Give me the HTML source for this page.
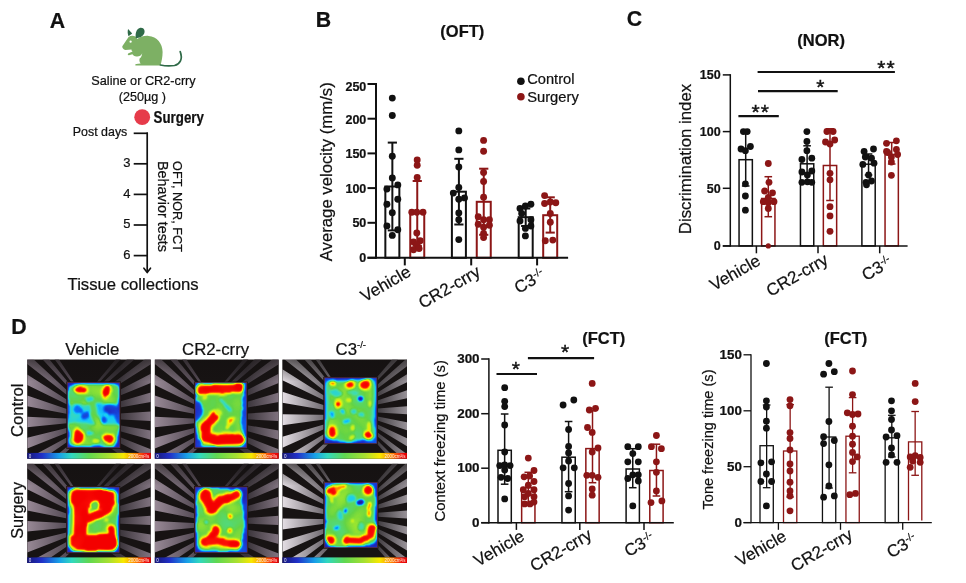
<!DOCTYPE html>
<html lang="en"><head><meta charset="utf-8"><title>Figure</title>
<style>html,body{margin:0;padding:0;background:#fff}svg{display:block}text{font-family:"Liberation Sans", sans-serif;stroke:#111;stroke-width:0.22px}</style>
</head><body>
<svg width="966" height="583" viewBox="0 0 966 583">
<rect width="966" height="583" fill="#ffffff"/>
<defs>
<filter id="jet" x="-10%" y="-10%" width="120%" height="120%" color-interpolation-filters="sRGB"><feTurbulence type="fractalNoise" baseFrequency="0.06" numOctaves="1" seed="7" result="n"/><feColorMatrix in="n" type="matrix" values="0 0 1 0 0  0 0 1 0 0  0 0 1 0 0  0 0 0 0 1" result="n2"/><feDisplacementMap in="SourceGraphic" in2="n" scale="7" xChannelSelector="R" yChannelSelector="G" result="d0"/><feGaussianBlur in="d0" stdDeviation="1.3" result="d"/><feComposite in="d" in2="n2" operator="arithmetic" k1="0" k2="1" k3="0.22" k4="-0.11" result="m"/><feComponentTransfer in="m"><feFuncR type="table" tableValues="0.1 0.12 0.04 0.08 0.27 0.39 0.73 1 1 1 0.96"/><feFuncG type="table" tableValues="0.1 0.18 0.43 0.8 0.87 0.83 0.94 0.92 0.55 0.1 0"/><feFuncB type="table" tableValues="0.55 0.78 0.98 0.98 0.65 0.27 0.14 0 0 0.04 0"/><feFuncA type="linear" slope="0" intercept="1"/></feComponentTransfer></filter>
<linearGradient id="cbar" x1="0" x2="1" y1="0" y2="0"><stop offset="0" stop-color="#181878"/><stop offset="0.12" stop-color="#2030c8"/><stop offset="0.26" stop-color="#18a0e8"/><stop offset="0.36" stop-color="#30d8c0"/><stop offset="0.5" stop-color="#60d850"/><stop offset="0.66" stop-color="#a8e030"/><stop offset="0.78" stop-color="#f8e800"/><stop offset="0.88" stop-color="#ff8000"/><stop offset="0.96" stop-color="#f01010"/><stop offset="1" stop-color="#e00000"/></linearGradient>
</defs>
<text x="49.7" y="27.5" font-size="21.3" font-weight="bold" text-anchor="start" fill="#111111">A</text>
<text x="315.8" y="27.2" font-size="21.3" font-weight="bold" text-anchor="start" fill="#111111">B</text>
<text x="626.8" y="26.1" font-size="21.3" font-weight="bold" text-anchor="start" fill="#111111">C</text>
<text x="11.2" y="334.2" font-size="21.3" font-weight="bold" text-anchor="start" fill="#111111">D</text>
<g id="mouse">
<path d="M122.3 46.3 L128.6 37 C130.5 35.6 133 35.2 135.5 36.6 L137.4 39 C140.5 36.8 144 35.6 148.5 35.9 C157 36.4 162.6 43.5 162.6 52 C162.6 57.5 161.6 61.5 160.4 65.6 L136 65.6 C135 65.4 135 64.1 136.2 63.9 L140.6 63.4 C139.3 61.6 139.2 60 139.6 58.4 C141 57.6 141.9 55.6 142.2 53.2 C141.2 55.6 139.2 56.7 136.5 56.5 C134.3 56.3 133.2 55.4 132.4 54.3 L129 55.2 C127.6 55.4 127.3 53.7 128.6 53.2 L132.6 51.6 C131.6 51 131.4 50.3 131.5 49.6 L125.4 49.9 C123.4 49.7 122 48 122.3 46.3 Z" fill="#7db064"/>
<path d="M128.1 28.9 L132.2 33.6 L128.5 36.2 C127.5 33.6 127.5 31 128.1 28.9 Z" fill="#2f6a48"/>
<path d="M135.9 38.3 C134.8 33.4 136.6 28.4 140.4 27.8 C144.2 27.4 145.3 30.8 144.1 33.8 C142.8 36.6 139.6 37.9 135.9 38.3 Z" fill="#2f6a48"/>
<circle cx="130.6" cy="41.7" r="1.15" fill="#ffffff"/>
<path d="M160.4 65 C165 66 170 66.2 174.5 65.5 C180 64.4 183 59 180.2 51.6" fill="none" stroke="#2f6a48" stroke-width="1.7" stroke-linecap="round"/>
</g>
<text x="143.5" y="85.3" font-size="13" font-weight="normal" text-anchor="middle" fill="#111111" textLength="104.4" lengthAdjust="spacingAndGlyphs">Saline or CR2-crry</text>
<text x="142.3" y="101.2" font-size="13" font-weight="normal" text-anchor="middle" fill="#111111" textLength="47.2" lengthAdjust="spacingAndGlyphs">(250µg )</text>
<circle cx="142.2" cy="117.2" r="7.9" fill="#e63b4a"/>
<text x="153.6" y="122.6" font-size="15.6" font-weight="bold" text-anchor="start" fill="#111111" textLength="50.3" lengthAdjust="spacingAndGlyphs">Surgery</text>
<text x="72.8" y="136.3" font-size="12.4" font-weight="normal" text-anchor="start" fill="#111111" textLength="54.5" lengthAdjust="spacingAndGlyphs">Post days</text>
<line x1="147.2" y1="132.5" x2="147.2" y2="271.5" stroke="#111111" stroke-width="1.7" stroke-linecap="butt"/>
<line x1="133.7" y1="133.3" x2="148" y2="133.3" stroke="#111111" stroke-width="1.7" stroke-linecap="butt"/>
<line x1="133.7" y1="163.8" x2="147.2" y2="163.8" stroke="#111111" stroke-width="1.7" stroke-linecap="butt"/>
<text x="130.6" y="167" font-size="13" font-weight="normal" text-anchor="end" fill="#111111">3</text>
<line x1="133.7" y1="194.4" x2="147.2" y2="194.4" stroke="#111111" stroke-width="1.7" stroke-linecap="butt"/>
<text x="130.6" y="197.6" font-size="13" font-weight="normal" text-anchor="end" fill="#111111">4</text>
<line x1="133.7" y1="225" x2="147.2" y2="225" stroke="#111111" stroke-width="1.7" stroke-linecap="butt"/>
<text x="130.6" y="228.2" font-size="13" font-weight="normal" text-anchor="end" fill="#111111">5</text>
<line x1="133.7" y1="255.6" x2="147.2" y2="255.6" stroke="#111111" stroke-width="1.7" stroke-linecap="butt"/>
<text x="130.6" y="258.8" font-size="13" font-weight="normal" text-anchor="end" fill="#111111">6</text>
<path d="M143.9 268.2 L147.2 272.6 L150.5 268.2" fill="none" stroke="#111111" stroke-width="1.6" stroke-linecap="round" stroke-linejoin="round"/>
<text transform="translate(172.6 161) rotate(90)" font-size="13" font-weight="normal" text-anchor="start" fill="#111111" textLength="91" lengthAdjust="spacingAndGlyphs">OFT, NOR, FCT</text>
<text transform="translate(158.2 161) rotate(90)" font-size="14" font-weight="normal" text-anchor="start" fill="#111111" textLength="91" lengthAdjust="spacingAndGlyphs">Behavior tests</text>
<text x="67.6" y="290.4" font-size="16.5" font-weight="normal" text-anchor="start" fill="#111111" textLength="131" lengthAdjust="spacingAndGlyphs">Tissue collections</text>
<rect x="385.35" y="186.5" width="14" height="71.3" fill="none" stroke="#111111" stroke-width="2"/>
<line x1="392.35" y1="142.6" x2="392.35" y2="230.4" stroke="#111111" stroke-width="2" stroke-linecap="butt"/>
<line x1="387.75" y1="142.6" x2="396.95" y2="142.6" stroke="#111111" stroke-width="2" stroke-linecap="butt"/>
<line x1="387.75" y1="230.4" x2="396.95" y2="230.4" stroke="#111111" stroke-width="2" stroke-linecap="butt"/>
<rect x="410.25" y="213" width="14" height="44.8" fill="none" stroke="#8c1616" stroke-width="2"/>
<line x1="417.25" y1="181" x2="417.25" y2="245.8" stroke="#8c1616" stroke-width="2" stroke-linecap="butt"/>
<line x1="412.65" y1="181" x2="421.85" y2="181" stroke="#8c1616" stroke-width="2" stroke-linecap="butt"/>
<line x1="412.65" y1="245.8" x2="421.85" y2="245.8" stroke="#8c1616" stroke-width="2" stroke-linecap="butt"/>
<rect x="451.9" y="191.7" width="14" height="66.1" fill="none" stroke="#111111" stroke-width="2"/>
<line x1="458.9" y1="158.8" x2="458.9" y2="224.5" stroke="#111111" stroke-width="2" stroke-linecap="butt"/>
<line x1="454.3" y1="158.8" x2="463.5" y2="158.8" stroke="#111111" stroke-width="2" stroke-linecap="butt"/>
<line x1="454.3" y1="224.5" x2="463.5" y2="224.5" stroke="#111111" stroke-width="2" stroke-linecap="butt"/>
<rect x="476.75" y="201.8" width="14" height="56" fill="none" stroke="#8c1616" stroke-width="2"/>
<line x1="483.75" y1="168.7" x2="483.75" y2="234.8" stroke="#8c1616" stroke-width="2" stroke-linecap="butt"/>
<line x1="479.15" y1="168.7" x2="488.35" y2="168.7" stroke="#8c1616" stroke-width="2" stroke-linecap="butt"/>
<line x1="479.15" y1="234.8" x2="488.35" y2="234.8" stroke="#8c1616" stroke-width="2" stroke-linecap="butt"/>
<rect x="518.7" y="217.2" width="14" height="40.6" fill="none" stroke="#111111" stroke-width="2"/>
<line x1="525.7" y1="208.5" x2="525.7" y2="226" stroke="#111111" stroke-width="2" stroke-linecap="butt"/>
<line x1="521.1" y1="208.5" x2="530.3" y2="208.5" stroke="#111111" stroke-width="2" stroke-linecap="butt"/>
<line x1="521.1" y1="226" x2="530.3" y2="226" stroke="#111111" stroke-width="2" stroke-linecap="butt"/>
<rect x="543.2" y="215.2" width="14" height="42.6" fill="none" stroke="#8c1616" stroke-width="2"/>
<line x1="550.2" y1="197.3" x2="550.2" y2="232.6" stroke="#8c1616" stroke-width="2" stroke-linecap="butt"/>
<line x1="545.6" y1="197.3" x2="554.8" y2="197.3" stroke="#8c1616" stroke-width="2" stroke-linecap="butt"/>
<line x1="545.6" y1="232.6" x2="554.8" y2="232.6" stroke="#8c1616" stroke-width="2" stroke-linecap="butt"/>
<line x1="376" y1="83" x2="376" y2="258.8" stroke="#111111" stroke-width="2" stroke-linecap="butt"/>
<line x1="367.5" y1="257.8" x2="568.1" y2="257.8" stroke="#111111" stroke-width="2" stroke-linecap="butt"/>
<line x1="367.5" y1="84" x2="376" y2="84" stroke="#111111" stroke-width="2" stroke-linecap="butt"/>
<text x="366.3" y="91.1" font-size="12.5" font-weight="bold" text-anchor="end" fill="#111111">250</text>
<line x1="367.5" y1="118.7" x2="376" y2="118.7" stroke="#111111" stroke-width="2" stroke-linecap="butt"/>
<text x="366.3" y="124.2" font-size="12.5" font-weight="bold" text-anchor="end" fill="#111111">200</text>
<line x1="367.5" y1="153.4" x2="376" y2="153.4" stroke="#111111" stroke-width="2" stroke-linecap="butt"/>
<text x="366.3" y="158.3" font-size="12.5" font-weight="bold" text-anchor="end" fill="#111111">150</text>
<line x1="367.5" y1="188.1" x2="376" y2="188.1" stroke="#111111" stroke-width="2" stroke-linecap="butt"/>
<text x="366.3" y="192.6" font-size="12.5" font-weight="bold" text-anchor="end" fill="#111111">100</text>
<line x1="367.5" y1="222.8" x2="376" y2="222.8" stroke="#111111" stroke-width="2" stroke-linecap="butt"/>
<text x="366.3" y="227.3" font-size="12.5" font-weight="bold" text-anchor="end" fill="#111111">50</text>
<line x1="367.5" y1="257.8" x2="376" y2="257.8" stroke="#111111" stroke-width="2" stroke-linecap="butt"/>
<text x="366.3" y="262.3" font-size="12.5" font-weight="bold" text-anchor="end" fill="#111111">0</text>
<line x1="404.8" y1="257.8" x2="404.8" y2="265.4" stroke="#111111" stroke-width="2" stroke-linecap="butt"/>
<text transform="translate(412.2 275.1) rotate(-30)" font-size="17" font-weight="normal" text-anchor="end" fill="#111111">Vehicle</text>
<line x1="471.2" y1="257.8" x2="471.2" y2="265.4" stroke="#111111" stroke-width="2" stroke-linecap="butt"/>
<text transform="translate(481.6 275.1) rotate(-30)" font-size="17" font-weight="normal" text-anchor="end" fill="#111111">CR2-crry</text>
<line x1="537.1" y1="257.8" x2="537.1" y2="265.4" stroke="#111111" stroke-width="2" stroke-linecap="butt"/>
<text transform="translate(546 278.1) rotate(-30)" font-size="17" font-weight="normal" text-anchor="end" fill="#111111">C3<tspan font-size="10.5" dy="-5.5">-/-</tspan></text>
<circle cx="392.3" cy="98.1" r="3.45" fill="#111111"/>
<circle cx="392.3" cy="115.5" r="3.45" fill="#111111"/>
<circle cx="392.3" cy="156.3" r="3.45" fill="#111111"/>
<circle cx="392.3" cy="178" r="3.45" fill="#111111"/>
<circle cx="397.8" cy="184.9" r="3.45" fill="#111111"/>
<circle cx="386.9" cy="189.1" r="3.45" fill="#111111"/>
<circle cx="397.8" cy="199.3" r="3.45" fill="#111111"/>
<circle cx="386.9" cy="204.3" r="3.45" fill="#111111"/>
<circle cx="392.3" cy="212.7" r="3.45" fill="#111111"/>
<circle cx="386.9" cy="225.9" r="3.45" fill="#111111"/>
<circle cx="397.8" cy="229.7" r="3.45" fill="#111111"/>
<circle cx="392.3" cy="235.4" r="3.45" fill="#111111"/>
<circle cx="417.2" cy="160" r="3.45" fill="#8c1616"/>
<circle cx="417.2" cy="165.3" r="3.45" fill="#8c1616"/>
<circle cx="417.2" cy="177.5" r="3.45" fill="#8c1616"/>
<circle cx="411.8" cy="212.3" r="3.45" fill="#8c1616"/>
<circle cx="416.8" cy="212.3" r="3.45" fill="#8c1616"/>
<circle cx="423" cy="212.3" r="3.45" fill="#8c1616"/>
<circle cx="416.8" cy="233" r="3.45" fill="#8c1616"/>
<circle cx="413.5" cy="241.9" r="3.45" fill="#8c1616"/>
<circle cx="420.2" cy="240.8" r="3.45" fill="#8c1616"/>
<circle cx="417.2" cy="245" r="3.45" fill="#8c1616"/>
<circle cx="413.5" cy="249.7" r="3.45" fill="#8c1616"/>
<circle cx="419.1" cy="248.6" r="3.45" fill="#8c1616"/>
<circle cx="458.8" cy="130.9" r="3.45" fill="#111111"/>
<circle cx="458.8" cy="149.9" r="3.45" fill="#111111"/>
<circle cx="458.8" cy="167" r="3.45" fill="#111111"/>
<circle cx="458.8" cy="187.5" r="3.45" fill="#111111"/>
<circle cx="453.3" cy="193.1" r="3.45" fill="#111111"/>
<circle cx="464.5" cy="197.9" r="3.45" fill="#111111"/>
<circle cx="458.8" cy="199.2" r="3.45" fill="#111111"/>
<circle cx="458.8" cy="213" r="3.45" fill="#111111"/>
<circle cx="458.8" cy="219.7" r="3.45" fill="#111111"/>
<circle cx="458.8" cy="239.6" r="3.45" fill="#111111"/>
<circle cx="483.6" cy="140.4" r="3.45" fill="#8c1616"/>
<circle cx="483.6" cy="151.3" r="3.45" fill="#8c1616"/>
<circle cx="483.6" cy="172.5" r="3.45" fill="#8c1616"/>
<circle cx="483.6" cy="181.5" r="3.45" fill="#8c1616"/>
<circle cx="483.6" cy="197.2" r="3.45" fill="#8c1616"/>
<circle cx="478.2" cy="216.7" r="3.45" fill="#8c1616"/>
<circle cx="483.6" cy="219.7" r="3.45" fill="#8c1616"/>
<circle cx="489.4" cy="219.7" r="3.45" fill="#8c1616"/>
<circle cx="478.2" cy="224.2" r="3.45" fill="#8c1616"/>
<circle cx="489.4" cy="225.2" r="3.45" fill="#8c1616"/>
<circle cx="483.6" cy="227.2" r="3.45" fill="#8c1616"/>
<circle cx="483.6" cy="233.4" r="3.45" fill="#8c1616"/>
<circle cx="483.6" cy="237.6" r="3.45" fill="#8c1616"/>
<circle cx="520" cy="208.5" r="3.45" fill="#111111"/>
<circle cx="525.4" cy="206" r="3.45" fill="#111111"/>
<circle cx="530.9" cy="204.3" r="3.45" fill="#111111"/>
<circle cx="521.7" cy="213.5" r="3.45" fill="#111111"/>
<circle cx="520" cy="221" r="3.45" fill="#111111"/>
<circle cx="530.9" cy="219.7" r="3.45" fill="#111111"/>
<circle cx="530.9" cy="226" r="3.45" fill="#111111"/>
<circle cx="525.4" cy="228.4" r="3.45" fill="#111111"/>
<circle cx="525.4" cy="235.9" r="3.45" fill="#111111"/>
<circle cx="544.6" cy="195.6" r="3.45" fill="#8c1616"/>
<circle cx="544.6" cy="203.5" r="3.45" fill="#8c1616"/>
<circle cx="555.8" cy="202.8" r="3.45" fill="#8c1616"/>
<circle cx="550.3" cy="202" r="3.45" fill="#8c1616"/>
<circle cx="550.3" cy="213.5" r="3.45" fill="#8c1616"/>
<circle cx="550.3" cy="222.2" r="3.45" fill="#8c1616"/>
<circle cx="545.3" cy="240.8" r="3.45" fill="#8c1616"/>
<circle cx="552.8" cy="240.1" r="3.45" fill="#8c1616"/>
<text transform="translate(332 171.8) rotate(-90)" font-size="16.5" font-weight="normal" text-anchor="middle" fill="#111111" textLength="179" lengthAdjust="spacingAndGlyphs">Average velocity (mm/s)</text>
<text x="462.3" y="36.6" font-size="16.5" font-weight="bold" text-anchor="middle" fill="#111111">(OFT)</text>
<circle cx="520.9" cy="81.2" r="3.8" fill="#111111"/>
<text x="527.2" y="84.2" font-size="14.8" font-weight="normal" text-anchor="start" fill="#111111" textLength="47.3" lengthAdjust="spacingAndGlyphs">Control</text>
<circle cx="520.9" cy="96.8" r="3.8" fill="#8c1616"/>
<text x="527.2" y="101.8" font-size="14.8" font-weight="normal" text-anchor="start" fill="#111111" textLength="51.6" lengthAdjust="spacingAndGlyphs">Surgery</text>
<rect x="739.05" y="159.7" width="13.3" height="86.2" fill="none" stroke="#111111" stroke-width="1.5"/>
<line x1="745.7" y1="133.3" x2="745.7" y2="186" stroke="#111111" stroke-width="1.5" stroke-linecap="butt"/>
<line x1="741.9" y1="133.3" x2="749.5" y2="133.3" stroke="#111111" stroke-width="1.5" stroke-linecap="butt"/>
<line x1="741.9" y1="186" x2="749.5" y2="186" stroke="#111111" stroke-width="1.5" stroke-linecap="butt"/>
<rect x="761.65" y="198.5" width="13.3" height="47.4" fill="none" stroke="#8c1616" stroke-width="1.5"/>
<line x1="768.3" y1="176.7" x2="768.3" y2="216.7" stroke="#8c1616" stroke-width="1.5" stroke-linecap="butt"/>
<line x1="764.5" y1="176.7" x2="772.1" y2="176.7" stroke="#8c1616" stroke-width="1.5" stroke-linecap="butt"/>
<line x1="764.5" y1="216.7" x2="772.1" y2="216.7" stroke="#8c1616" stroke-width="1.5" stroke-linecap="butt"/>
<rect x="800.45" y="163.8" width="13.3" height="82.1" fill="none" stroke="#111111" stroke-width="1.5"/>
<line x1="807.1" y1="145.8" x2="807.1" y2="181.8" stroke="#111111" stroke-width="1.5" stroke-linecap="butt"/>
<line x1="803.3" y1="145.8" x2="810.9" y2="145.8" stroke="#111111" stroke-width="1.5" stroke-linecap="butt"/>
<line x1="803.3" y1="181.8" x2="810.9" y2="181.8" stroke="#111111" stroke-width="1.5" stroke-linecap="butt"/>
<rect x="823.35" y="165.5" width="13.3" height="80.4" fill="none" stroke="#8c1616" stroke-width="1.5"/>
<line x1="830" y1="128.8" x2="830" y2="200.5" stroke="#8c1616" stroke-width="1.5" stroke-linecap="butt"/>
<line x1="826.2" y1="128.8" x2="833.8" y2="128.8" stroke="#8c1616" stroke-width="1.5" stroke-linecap="butt"/>
<line x1="826.2" y1="200.5" x2="833.8" y2="200.5" stroke="#8c1616" stroke-width="1.5" stroke-linecap="butt"/>
<rect x="861.9" y="164.2" width="13.3" height="81.7" fill="none" stroke="#111111" stroke-width="1.5"/>
<line x1="868.55" y1="154" x2="868.55" y2="175" stroke="#111111" stroke-width="1.5" stroke-linecap="butt"/>
<line x1="864.75" y1="154" x2="872.35" y2="154" stroke="#111111" stroke-width="1.5" stroke-linecap="butt"/>
<line x1="864.75" y1="175" x2="872.35" y2="175" stroke="#111111" stroke-width="1.5" stroke-linecap="butt"/>
<rect x="885.05" y="154.5" width="13.3" height="91.4" fill="none" stroke="#8c1616" stroke-width="1.5"/>
<line x1="891.7" y1="142.5" x2="891.7" y2="164" stroke="#8c1616" stroke-width="1.5" stroke-linecap="butt"/>
<line x1="887.9" y1="142.5" x2="895.5" y2="142.5" stroke="#8c1616" stroke-width="1.5" stroke-linecap="butt"/>
<line x1="887.9" y1="164" x2="895.5" y2="164" stroke="#8c1616" stroke-width="1.5" stroke-linecap="butt"/>
<line x1="730.3" y1="74.15" x2="730.3" y2="246.65" stroke="#111111" stroke-width="1.5" stroke-linecap="butt"/>
<line x1="722.8" y1="245.9" x2="907.6" y2="245.9" stroke="#111111" stroke-width="1.5" stroke-linecap="butt"/>
<line x1="722.8" y1="74.9" x2="730.3" y2="74.9" stroke="#111111" stroke-width="1.5" stroke-linecap="butt"/>
<text x="720.6" y="79.4" font-size="12.5" font-weight="bold" text-anchor="end" fill="#111111">150</text>
<line x1="722.8" y1="131.6" x2="730.3" y2="131.6" stroke="#111111" stroke-width="1.5" stroke-linecap="butt"/>
<text x="720.6" y="136.1" font-size="12.5" font-weight="bold" text-anchor="end" fill="#111111">100</text>
<line x1="722.8" y1="188.3" x2="730.3" y2="188.3" stroke="#111111" stroke-width="1.5" stroke-linecap="butt"/>
<text x="720.6" y="192.8" font-size="12.5" font-weight="bold" text-anchor="end" fill="#111111">50</text>
<line x1="722.8" y1="245.9" x2="730.3" y2="245.9" stroke="#111111" stroke-width="1.5" stroke-linecap="butt"/>
<text x="720.6" y="250.4" font-size="12.5" font-weight="bold" text-anchor="end" fill="#111111">0</text>
<line x1="756.4" y1="245.9" x2="756.4" y2="253.3" stroke="#111111" stroke-width="1.5" stroke-linecap="butt"/>
<text transform="translate(761.6 263.9) rotate(-30)" font-size="17" font-weight="normal" text-anchor="end" fill="#111111">Vehicle</text>
<line x1="818" y1="245.9" x2="818" y2="253.3" stroke="#111111" stroke-width="1.5" stroke-linecap="butt"/>
<text transform="translate(829.4 262.9) rotate(-30)" font-size="17" font-weight="normal" text-anchor="end" fill="#111111">CR2-crry</text>
<line x1="879.7" y1="245.9" x2="879.7" y2="253.3" stroke="#111111" stroke-width="1.5" stroke-linecap="butt"/>
<text transform="translate(893.3 265.4) rotate(-30)" font-size="17" font-weight="normal" text-anchor="end" fill="#111111">C3<tspan font-size="10.5" dy="-5.5">-/-</tspan></text>
<circle cx="743.4" cy="131.6" r="3.4" fill="#111111"/>
<circle cx="747.2" cy="131.6" r="3.4" fill="#111111"/>
<circle cx="741" cy="149" r="3.4" fill="#111111"/>
<circle cx="745.4" cy="150.7" r="3.4" fill="#111111"/>
<circle cx="750.4" cy="146.5" r="3.4" fill="#111111"/>
<circle cx="745.4" cy="183.8" r="3.4" fill="#111111"/>
<circle cx="745.4" cy="196" r="3.4" fill="#111111"/>
<circle cx="745.4" cy="210.2" r="3.4" fill="#111111"/>
<circle cx="768.3" cy="163.5" r="3.4" fill="#8c1616"/>
<circle cx="769" cy="182.3" r="3.4" fill="#8c1616"/>
<circle cx="764.6" cy="191" r="3.4" fill="#8c1616"/>
<circle cx="772.5" cy="192.8" r="3.4" fill="#8c1616"/>
<circle cx="768.3" cy="197.3" r="3.4" fill="#8c1616"/>
<circle cx="763.3" cy="201.7" r="3.4" fill="#8c1616"/>
<circle cx="768.3" cy="202.7" r="3.4" fill="#8c1616"/>
<circle cx="774" cy="201.7" r="3.4" fill="#8c1616"/>
<circle cx="768.3" cy="208.5" r="3.4" fill="#8c1616"/>
<circle cx="768.3" cy="245.9" r="2.6" fill="#8c1616"/>
<circle cx="806.9" cy="131.6" r="3.4" fill="#111111"/>
<circle cx="806.9" cy="141.5" r="3.4" fill="#111111"/>
<circle cx="806.9" cy="150.7" r="3.4" fill="#111111"/>
<circle cx="801.9" cy="159.5" r="3.4" fill="#111111"/>
<circle cx="811.8" cy="158.2" r="3.4" fill="#111111"/>
<circle cx="801.9" cy="172" r="3.4" fill="#111111"/>
<circle cx="807.4" cy="174.9" r="3.4" fill="#111111"/>
<circle cx="811.8" cy="171" r="3.4" fill="#111111"/>
<circle cx="801.9" cy="182.3" r="3.4" fill="#111111"/>
<circle cx="807.4" cy="181.8" r="3.4" fill="#111111"/>
<circle cx="811.8" cy="182.3" r="3.4" fill="#111111"/>
<circle cx="826.9" cy="131.5" r="3.4" fill="#8c1616"/>
<circle cx="833.1" cy="131.5" r="3.4" fill="#8c1616"/>
<circle cx="825.5" cy="142" r="3.4" fill="#8c1616"/>
<circle cx="834.7" cy="140" r="3.4" fill="#8c1616"/>
<circle cx="830" cy="144" r="3.4" fill="#8c1616"/>
<circle cx="830" cy="173.3" r="3.4" fill="#8c1616"/>
<circle cx="830" cy="179.8" r="3.4" fill="#8c1616"/>
<circle cx="830" cy="206.7" r="3.4" fill="#8c1616"/>
<circle cx="830" cy="215.9" r="3.4" fill="#8c1616"/>
<circle cx="830" cy="231.3" r="3.4" fill="#8c1616"/>
<circle cx="864.1" cy="151.5" r="3.4" fill="#111111"/>
<circle cx="873.5" cy="149" r="3.4" fill="#111111"/>
<circle cx="865.3" cy="157" r="3.4" fill="#111111"/>
<circle cx="871.5" cy="158.2" r="3.4" fill="#111111"/>
<circle cx="862.8" cy="164.4" r="3.4" fill="#111111"/>
<circle cx="874" cy="163.2" r="3.4" fill="#111111"/>
<circle cx="868.6" cy="175" r="3.4" fill="#111111"/>
<circle cx="866" cy="182.3" r="3.4" fill="#111111"/>
<circle cx="871.5" cy="181" r="3.4" fill="#111111"/>
<circle cx="866.5" cy="184.8" r="3.4" fill="#111111"/>
<circle cx="886.5" cy="143.3" r="3.4" fill="#8c1616"/>
<circle cx="896.4" cy="140.8" r="3.4" fill="#8c1616"/>
<circle cx="886.5" cy="151.5" r="3.4" fill="#8c1616"/>
<circle cx="896.4" cy="149.5" r="3.4" fill="#8c1616"/>
<circle cx="891.4" cy="157" r="3.4" fill="#8c1616"/>
<circle cx="897.6" cy="154.5" r="3.4" fill="#8c1616"/>
<circle cx="891.4" cy="162" r="3.4" fill="#8c1616"/>
<circle cx="891.4" cy="175.3" r="3.4" fill="#8c1616"/>
<circle cx="887.7" cy="152.5" r="3.4" fill="#8c1616"/>
<line x1="757.6" y1="72" x2="894.9" y2="72" stroke="#111111" stroke-width="2.2" stroke-linecap="butt"/>
<text x="886.5" y="75.4" font-size="21" font-weight="normal" text-anchor="middle" fill="#111111" letter-spacing="1" style="stroke-width:0.4px">**</text>
<line x1="758" y1="91.1" x2="837.7" y2="91.1" stroke="#111111" stroke-width="2.2" stroke-linecap="butt"/>
<text x="820.8" y="94.4" font-size="21" font-weight="normal" text-anchor="middle" fill="#111111" letter-spacing="1" style="stroke-width:0.4px">*</text>
<line x1="738.4" y1="116.1" x2="778.8" y2="116.1" stroke="#111111" stroke-width="2.2" stroke-linecap="butt"/>
<text x="760.8" y="119" font-size="21" font-weight="normal" text-anchor="middle" fill="#111111" letter-spacing="1" style="stroke-width:0.4px">**</text>
<text transform="translate(691.2 159) rotate(-90)" font-size="16.5" font-weight="normal" text-anchor="middle" fill="#111111" textLength="150.3" lengthAdjust="spacingAndGlyphs">Discrimination index</text>
<text x="821.2" y="45.6" font-size="16.5" font-weight="bold" text-anchor="middle" fill="#111111">(NOR)</text>
<rect x="498" y="450.3" width="13.3" height="72.4" fill="none" stroke="#111111" stroke-width="1.5"/>
<line x1="504.65" y1="414" x2="504.65" y2="484.2" stroke="#111111" stroke-width="1.5" stroke-linecap="butt"/>
<line x1="500.85" y1="414" x2="508.45" y2="414" stroke="#111111" stroke-width="1.5" stroke-linecap="butt"/>
<line x1="500.85" y1="484.2" x2="508.45" y2="484.2" stroke="#111111" stroke-width="1.5" stroke-linecap="butt"/>
<rect x="521.65" y="487.7" width="13.3" height="35" fill="none" stroke="#8c1616" stroke-width="1.5"/>
<line x1="528.3" y1="472.3" x2="528.3" y2="503.4" stroke="#8c1616" stroke-width="1.5" stroke-linecap="butt"/>
<line x1="524.5" y1="472.3" x2="532.1" y2="472.3" stroke="#8c1616" stroke-width="1.5" stroke-linecap="butt"/>
<line x1="524.5" y1="503.4" x2="532.1" y2="503.4" stroke="#8c1616" stroke-width="1.5" stroke-linecap="butt"/>
<rect x="561.95" y="457.2" width="13.3" height="65.5" fill="none" stroke="#111111" stroke-width="1.5"/>
<line x1="568.6" y1="421.5" x2="568.6" y2="491.7" stroke="#111111" stroke-width="1.5" stroke-linecap="butt"/>
<line x1="564.8" y1="421.5" x2="572.4" y2="421.5" stroke="#111111" stroke-width="1.5" stroke-linecap="butt"/>
<line x1="564.8" y1="491.7" x2="572.4" y2="491.7" stroke="#111111" stroke-width="1.5" stroke-linecap="butt"/>
<rect x="585.85" y="448.6" width="13.3" height="74.1" fill="none" stroke="#8c1616" stroke-width="1.5"/>
<line x1="592.5" y1="410.8" x2="592.5" y2="482.7" stroke="#8c1616" stroke-width="1.5" stroke-linecap="butt"/>
<line x1="588.7" y1="410.8" x2="596.3" y2="410.8" stroke="#8c1616" stroke-width="1.5" stroke-linecap="butt"/>
<line x1="588.7" y1="482.7" x2="596.3" y2="482.7" stroke="#8c1616" stroke-width="1.5" stroke-linecap="butt"/>
<rect x="626.1" y="469" width="13.3" height="53.7" fill="none" stroke="#111111" stroke-width="1.5"/>
<line x1="632.75" y1="448.7" x2="632.75" y2="487.7" stroke="#111111" stroke-width="1.5" stroke-linecap="butt"/>
<line x1="628.95" y1="448.7" x2="636.55" y2="448.7" stroke="#111111" stroke-width="1.5" stroke-linecap="butt"/>
<line x1="628.95" y1="487.7" x2="636.55" y2="487.7" stroke="#111111" stroke-width="1.5" stroke-linecap="butt"/>
<rect x="649.8" y="470.5" width="13.3" height="52.2" fill="none" stroke="#8c1616" stroke-width="1.5"/>
<line x1="656.45" y1="444.2" x2="656.45" y2="496" stroke="#8c1616" stroke-width="1.5" stroke-linecap="butt"/>
<line x1="652.65" y1="444.2" x2="660.25" y2="444.2" stroke="#8c1616" stroke-width="1.5" stroke-linecap="butt"/>
<line x1="652.65" y1="496" x2="660.25" y2="496" stroke="#8c1616" stroke-width="1.5" stroke-linecap="butt"/>
<line x1="488.9" y1="358.25" x2="488.9" y2="523.45" stroke="#111111" stroke-width="1.5" stroke-linecap="butt"/>
<line x1="481.2" y1="522.7" x2="673.8" y2="522.7" stroke="#111111" stroke-width="1.5" stroke-linecap="butt"/>
<line x1="481.2" y1="359" x2="488.9" y2="359" stroke="#111111" stroke-width="1.5" stroke-linecap="butt"/>
<text x="479.6" y="362.9" font-size="12.5" font-weight="bold" text-anchor="end" fill="#111111" textLength="22.41" lengthAdjust="spacingAndGlyphs">300</text>
<line x1="481.2" y1="413.7" x2="488.9" y2="413.7" stroke="#111111" stroke-width="1.5" stroke-linecap="butt"/>
<text x="479.6" y="417.6" font-size="12.5" font-weight="bold" text-anchor="end" fill="#111111" textLength="22.41" lengthAdjust="spacingAndGlyphs">200</text>
<line x1="481.2" y1="468.2" x2="488.9" y2="468.2" stroke="#111111" stroke-width="1.5" stroke-linecap="butt"/>
<text x="479.6" y="472.1" font-size="12.5" font-weight="bold" text-anchor="end" fill="#111111" textLength="22.41" lengthAdjust="spacingAndGlyphs">100</text>
<line x1="481.2" y1="522.7" x2="488.9" y2="522.7" stroke="#111111" stroke-width="1.5" stroke-linecap="butt"/>
<text x="479.6" y="526.6" font-size="12.5" font-weight="bold" text-anchor="end" fill="#111111" textLength="7.47" lengthAdjust="spacingAndGlyphs">0</text>
<line x1="516.4" y1="522.7" x2="516.4" y2="529.9" stroke="#111111" stroke-width="1.5" stroke-linecap="butt"/>
<text transform="translate(525.6 539.5) rotate(-30)" font-size="17" font-weight="normal" text-anchor="end" fill="#111111">Vehicle</text>
<line x1="579.8" y1="522.7" x2="579.8" y2="529.9" stroke="#111111" stroke-width="1.5" stroke-linecap="butt"/>
<text transform="translate(593.2 538) rotate(-30)" font-size="17" font-weight="normal" text-anchor="end" fill="#111111">CR2-crry</text>
<line x1="644" y1="522.7" x2="644" y2="529.9" stroke="#111111" stroke-width="1.5" stroke-linecap="butt"/>
<text transform="translate(655.9 541.5) rotate(-30)" font-size="17" font-weight="normal" text-anchor="end" fill="#111111">C3<tspan font-size="10.5" dy="-5.5">-/-</tspan></text>
<circle cx="504.7" cy="387.7" r="3.4" fill="#111111"/>
<circle cx="504.7" cy="401.3" r="3.4" fill="#111111"/>
<circle cx="504.7" cy="406.6" r="3.4" fill="#111111"/>
<circle cx="504.7" cy="425" r="3.4" fill="#111111"/>
<circle cx="504.7" cy="452" r="3.4" fill="#111111"/>
<circle cx="499.7" cy="465.6" r="3.4" fill="#111111"/>
<circle cx="504.7" cy="464.8" r="3.4" fill="#111111"/>
<circle cx="510.1" cy="465.6" r="3.4" fill="#111111"/>
<circle cx="501" cy="477.3" r="3.4" fill="#111111"/>
<circle cx="507.7" cy="478.5" r="3.4" fill="#111111"/>
<circle cx="504.7" cy="470" r="3.4" fill="#111111"/>
<circle cx="504.7" cy="498.9" r="3.4" fill="#111111"/>
<circle cx="528.3" cy="458.1" r="3.4" fill="#8c1616"/>
<circle cx="534" cy="470.5" r="3.4" fill="#8c1616"/>
<circle cx="524.1" cy="476.8" r="3.4" fill="#8c1616"/>
<circle cx="529.6" cy="476" r="3.4" fill="#8c1616"/>
<circle cx="534" cy="481.5" r="3.4" fill="#8c1616"/>
<circle cx="528.3" cy="485.2" r="3.4" fill="#8c1616"/>
<circle cx="523.3" cy="489.7" r="3.4" fill="#8c1616"/>
<circle cx="534" cy="489.7" r="3.4" fill="#8c1616"/>
<circle cx="524.6" cy="496.7" r="3.4" fill="#8c1616"/>
<circle cx="534" cy="496.7" r="3.4" fill="#8c1616"/>
<circle cx="528.3" cy="493.4" r="3.4" fill="#8c1616"/>
<circle cx="524.6" cy="503.9" r="3.4" fill="#8c1616"/>
<circle cx="530" cy="503.9" r="3.4" fill="#8c1616"/>
<circle cx="534" cy="502.1" r="3.4" fill="#8c1616"/>
<circle cx="563.1" cy="405" r="3.4" fill="#111111"/>
<circle cx="573.8" cy="400" r="3.4" fill="#111111"/>
<circle cx="568.6" cy="429.5" r="3.4" fill="#111111"/>
<circle cx="568.6" cy="446.5" r="3.4" fill="#111111"/>
<circle cx="568.6" cy="452.9" r="3.4" fill="#111111"/>
<circle cx="568.6" cy="461" r="3.4" fill="#111111"/>
<circle cx="563.1" cy="467.8" r="3.4" fill="#111111"/>
<circle cx="574.3" cy="467.8" r="3.4" fill="#111111"/>
<circle cx="568.6" cy="483.5" r="3.4" fill="#111111"/>
<circle cx="568.6" cy="495.9" r="3.4" fill="#111111"/>
<circle cx="568.6" cy="510.1" r="3.4" fill="#111111"/>
<circle cx="592.2" cy="383.4" r="3.4" fill="#8c1616"/>
<circle cx="589.3" cy="410" r="3.4" fill="#8c1616"/>
<circle cx="595.5" cy="408.3" r="3.4" fill="#8c1616"/>
<circle cx="587.5" cy="427.5" r="3.4" fill="#8c1616"/>
<circle cx="592.2" cy="432.4" r="3.4" fill="#8c1616"/>
<circle cx="598" cy="448" r="3.4" fill="#8c1616"/>
<circle cx="592.2" cy="452" r="3.4" fill="#8c1616"/>
<circle cx="586.8" cy="475.3" r="3.4" fill="#8c1616"/>
<circle cx="592.2" cy="475.3" r="3.4" fill="#8c1616"/>
<circle cx="598" cy="477.3" r="3.4" fill="#8c1616"/>
<circle cx="592.2" cy="489" r="3.4" fill="#8c1616"/>
<circle cx="592.2" cy="495.2" r="3.4" fill="#8c1616"/>
<circle cx="627.8" cy="446.7" r="3.4" fill="#111111"/>
<circle cx="638.3" cy="446.7" r="3.4" fill="#111111"/>
<circle cx="632.8" cy="453.6" r="3.4" fill="#111111"/>
<circle cx="627.8" cy="461.8" r="3.4" fill="#111111"/>
<circle cx="638.3" cy="461.8" r="3.4" fill="#111111"/>
<circle cx="632.8" cy="474.8" r="3.4" fill="#111111"/>
<circle cx="638.3" cy="474.8" r="3.4" fill="#111111"/>
<circle cx="627.8" cy="478.5" r="3.4" fill="#111111"/>
<circle cx="638.3" cy="481" r="3.4" fill="#111111"/>
<circle cx="632.8" cy="505.9" r="3.4" fill="#111111"/>
<circle cx="656.4" cy="435.5" r="3.4" fill="#8c1616"/>
<circle cx="651.4" cy="446.7" r="3.4" fill="#8c1616"/>
<circle cx="661.4" cy="448.7" r="3.4" fill="#8c1616"/>
<circle cx="656.4" cy="461.8" r="3.4" fill="#8c1616"/>
<circle cx="656.4" cy="472.3" r="3.4" fill="#8c1616"/>
<circle cx="656.4" cy="491" r="3.4" fill="#8c1616"/>
<circle cx="651" cy="502.6" r="3.4" fill="#8c1616"/>
<circle cx="661.9" cy="500.9" r="3.4" fill="#8c1616"/>
<line x1="496.5" y1="374" x2="537" y2="374" stroke="#111111" stroke-width="2.2" stroke-linecap="butt"/>
<text x="516.3" y="375.5" font-size="21" font-weight="normal" text-anchor="middle" fill="#111111" letter-spacing="1" style="stroke-width:0.4px">*</text>
<line x1="527.9" y1="358.1" x2="594.1" y2="358.1" stroke="#111111" stroke-width="2.2" stroke-linecap="butt"/>
<text x="565.7" y="358.8" font-size="21" font-weight="normal" text-anchor="middle" fill="#111111" letter-spacing="1" style="stroke-width:0.4px">*</text>
<text transform="translate(445.3 440.8) rotate(-90)" font-size="15" font-weight="normal" text-anchor="middle" fill="#111111" textLength="161.5" lengthAdjust="spacingAndGlyphs">Context freezing time (s)</text>
<text x="603.8" y="344.2" font-size="16.5" font-weight="bold" text-anchor="middle" fill="#111111">(FCT)</text>
<rect x="760" y="445.7" width="13.3" height="76.9" fill="none" stroke="#111111" stroke-width="1.3"/>
<line x1="766.65" y1="405" x2="766.65" y2="487.7" stroke="#111111" stroke-width="1.3" stroke-linecap="butt"/>
<line x1="762.85" y1="405" x2="770.45" y2="405" stroke="#111111" stroke-width="1.3" stroke-linecap="butt"/>
<line x1="762.85" y1="487.7" x2="770.45" y2="487.7" stroke="#111111" stroke-width="1.3" stroke-linecap="butt"/>
<rect x="783.5" y="451" width="13.3" height="71.6" fill="none" stroke="#8c1616" stroke-width="1.3"/>
<line x1="790.15" y1="404.6" x2="790.15" y2="497" stroke="#8c1616" stroke-width="1.3" stroke-linecap="butt"/>
<line x1="786.35" y1="404.6" x2="793.95" y2="404.6" stroke="#8c1616" stroke-width="1.3" stroke-linecap="butt"/>
<line x1="786.35" y1="497" x2="793.95" y2="497" stroke="#8c1616" stroke-width="1.3" stroke-linecap="butt"/>
<rect x="822.45" y="437" width="13.3" height="85.6" fill="none" stroke="#111111" stroke-width="1.3"/>
<line x1="829.1" y1="387.2" x2="829.1" y2="488" stroke="#111111" stroke-width="1.3" stroke-linecap="butt"/>
<line x1="825.3" y1="387.2" x2="832.9" y2="387.2" stroke="#111111" stroke-width="1.3" stroke-linecap="butt"/>
<line x1="825.3" y1="488" x2="832.9" y2="488" stroke="#111111" stroke-width="1.3" stroke-linecap="butt"/>
<rect x="845.95" y="436.2" width="13.3" height="86.4" fill="none" stroke="#8c1616" stroke-width="1.3"/>
<line x1="852.6" y1="397.6" x2="852.6" y2="472.8" stroke="#8c1616" stroke-width="1.3" stroke-linecap="butt"/>
<line x1="848.8" y1="397.6" x2="856.4" y2="397.6" stroke="#8c1616" stroke-width="1.3" stroke-linecap="butt"/>
<line x1="848.8" y1="472.8" x2="856.4" y2="472.8" stroke="#8c1616" stroke-width="1.3" stroke-linecap="butt"/>
<rect x="885.15" y="437.8" width="13.3" height="84.8" fill="none" stroke="#111111" stroke-width="1.3"/>
<line x1="891.8" y1="415.3" x2="891.8" y2="456.9" stroke="#111111" stroke-width="1.3" stroke-linecap="butt"/>
<line x1="888" y1="415.3" x2="895.6" y2="415.3" stroke="#111111" stroke-width="1.3" stroke-linecap="butt"/>
<line x1="888" y1="456.9" x2="895.6" y2="456.9" stroke="#111111" stroke-width="1.3" stroke-linecap="butt"/>
<path d="M908.5 520.5L908.5 441.8L921.8 441.8L921.8 520.5" fill="none" stroke="#8c1616" stroke-width="1.3"/>
<line x1="915.15" y1="411.5" x2="915.15" y2="475.3" stroke="#8c1616" stroke-width="1.3" stroke-linecap="butt"/>
<line x1="911.35" y1="411.5" x2="918.95" y2="411.5" stroke="#8c1616" stroke-width="1.3" stroke-linecap="butt"/>
<line x1="911.35" y1="475.3" x2="918.95" y2="475.3" stroke="#8c1616" stroke-width="1.3" stroke-linecap="butt"/>
<line x1="751" y1="354.15" x2="751" y2="523.25" stroke="#111111" stroke-width="1.3" stroke-linecap="butt"/>
<line x1="743.5" y1="522.6" x2="931.8" y2="522.6" stroke="#111111" stroke-width="1.3" stroke-linecap="butt"/>
<line x1="743.5" y1="354.8" x2="751" y2="354.8" stroke="#111111" stroke-width="1.3" stroke-linecap="butt"/>
<text x="741.9" y="359.3" font-size="12.5" font-weight="bold" text-anchor="end" fill="#111111" textLength="22.31" lengthAdjust="spacingAndGlyphs">150</text>
<line x1="743.5" y1="410.8" x2="751" y2="410.8" stroke="#111111" stroke-width="1.3" stroke-linecap="butt"/>
<text x="741.9" y="415.3" font-size="12.5" font-weight="bold" text-anchor="end" fill="#111111" textLength="22.31" lengthAdjust="spacingAndGlyphs">100</text>
<line x1="743.5" y1="466.7" x2="751" y2="466.7" stroke="#111111" stroke-width="1.3" stroke-linecap="butt"/>
<text x="741.9" y="471.2" font-size="12.5" font-weight="bold" text-anchor="end" fill="#111111" textLength="14.87" lengthAdjust="spacingAndGlyphs">50</text>
<line x1="743.5" y1="522.6" x2="751" y2="522.6" stroke="#111111" stroke-width="1.3" stroke-linecap="butt"/>
<text x="741.9" y="527.1" font-size="12.5" font-weight="bold" text-anchor="end" fill="#111111" textLength="7.44" lengthAdjust="spacingAndGlyphs">0</text>
<line x1="778.4" y1="522.6" x2="778.4" y2="529.8" stroke="#111111" stroke-width="1.3" stroke-linecap="butt"/>
<text transform="translate(787.6 539.4) rotate(-30)" font-size="17" font-weight="normal" text-anchor="end" fill="#111111">Vehicle</text>
<line x1="840.5" y1="522.6" x2="840.5" y2="529.8" stroke="#111111" stroke-width="1.3" stroke-linecap="butt"/>
<text transform="translate(853.9 537.9) rotate(-30)" font-size="17" font-weight="normal" text-anchor="end" fill="#111111">CR2-crry</text>
<line x1="902.7" y1="522.6" x2="902.7" y2="529.8" stroke="#111111" stroke-width="1.3" stroke-linecap="butt"/>
<text transform="translate(918.3 542.6) rotate(-30)" font-size="17" font-weight="normal" text-anchor="end" fill="#111111">C3<tspan font-size="10.5" dy="-5.5">-/-</tspan></text>
<circle cx="766.4" cy="363.5" r="3.4" fill="#111111"/>
<circle cx="766.4" cy="400.8" r="3.4" fill="#111111"/>
<circle cx="766.4" cy="407" r="3.4" fill="#111111"/>
<circle cx="766.4" cy="421.2" r="3.4" fill="#111111"/>
<circle cx="766.4" cy="428.2" r="3.4" fill="#111111"/>
<circle cx="760.9" cy="462.8" r="3.4" fill="#111111"/>
<circle cx="771.6" cy="461.8" r="3.4" fill="#111111"/>
<circle cx="766.4" cy="474" r="3.4" fill="#111111"/>
<circle cx="760.9" cy="481.5" r="3.4" fill="#111111"/>
<circle cx="771.6" cy="481.5" r="3.4" fill="#111111"/>
<circle cx="766.4" cy="505.9" r="3.4" fill="#111111"/>
<circle cx="790" cy="399.6" r="3.4" fill="#8c1616"/>
<circle cx="790" cy="405.8" r="3.4" fill="#8c1616"/>
<circle cx="790" cy="432.6" r="3.4" fill="#8c1616"/>
<circle cx="790" cy="438.5" r="3.4" fill="#8c1616"/>
<circle cx="790" cy="449.9" r="3.4" fill="#8c1616"/>
<circle cx="790" cy="464" r="3.4" fill="#8c1616"/>
<circle cx="790" cy="471" r="3.4" fill="#8c1616"/>
<circle cx="790" cy="482.2" r="3.4" fill="#8c1616"/>
<circle cx="790" cy="491" r="3.4" fill="#8c1616"/>
<circle cx="790" cy="496" r="3.4" fill="#8c1616"/>
<circle cx="790" cy="510.8" r="3.4" fill="#8c1616"/>
<circle cx="828.9" cy="363.5" r="3.4" fill="#111111"/>
<circle cx="823.6" cy="374.2" r="3.4" fill="#111111"/>
<circle cx="834.3" cy="371.7" r="3.4" fill="#111111"/>
<circle cx="828.9" cy="421.5" r="3.4" fill="#111111"/>
<circle cx="823.6" cy="436.7" r="3.4" fill="#111111"/>
<circle cx="834.3" cy="440.5" r="3.4" fill="#111111"/>
<circle cx="823.6" cy="443.6" r="3.4" fill="#111111"/>
<circle cx="828.9" cy="464.8" r="3.4" fill="#111111"/>
<circle cx="828.9" cy="486" r="3.4" fill="#111111"/>
<circle cx="823.6" cy="497.2" r="3.4" fill="#111111"/>
<circle cx="834.3" cy="495.9" r="3.4" fill="#111111"/>
<circle cx="852.5" cy="371" r="3.4" fill="#8c1616"/>
<circle cx="852.5" cy="394.6" r="3.4" fill="#8c1616"/>
<circle cx="847.3" cy="412.8" r="3.4" fill="#8c1616"/>
<circle cx="852.5" cy="414.5" r="3.4" fill="#8c1616"/>
<circle cx="858" cy="414" r="3.4" fill="#8c1616"/>
<circle cx="852.5" cy="426.2" r="3.4" fill="#8c1616"/>
<circle cx="852.5" cy="436.2" r="3.4" fill="#8c1616"/>
<circle cx="852.5" cy="444.2" r="3.4" fill="#8c1616"/>
<circle cx="852.5" cy="452.4" r="3.4" fill="#8c1616"/>
<circle cx="857.2" cy="456.9" r="3.4" fill="#8c1616"/>
<circle cx="852.5" cy="461.6" r="3.4" fill="#8c1616"/>
<circle cx="849.8" cy="494.7" r="3.4" fill="#8c1616"/>
<circle cx="855.5" cy="493.4" r="3.4" fill="#8c1616"/>
<circle cx="891.5" cy="400.8" r="3.4" fill="#111111"/>
<circle cx="891.5" cy="410.8" r="3.4" fill="#111111"/>
<circle cx="891.5" cy="419.5" r="3.4" fill="#111111"/>
<circle cx="891.5" cy="430" r="3.4" fill="#111111"/>
<circle cx="886.1" cy="437" r="3.4" fill="#111111"/>
<circle cx="897" cy="435.7" r="3.4" fill="#111111"/>
<circle cx="891.5" cy="447.9" r="3.4" fill="#111111"/>
<circle cx="891.5" cy="454.9" r="3.4" fill="#111111"/>
<circle cx="886.1" cy="462.3" r="3.4" fill="#111111"/>
<circle cx="897" cy="462.3" r="3.4" fill="#111111"/>
<circle cx="915.2" cy="383.4" r="3.4" fill="#8c1616"/>
<circle cx="915.2" cy="401.6" r="3.4" fill="#8c1616"/>
<circle cx="910.2" cy="456.9" r="3.4" fill="#8c1616"/>
<circle cx="915.2" cy="455.6" r="3.4" fill="#8c1616"/>
<circle cx="920.2" cy="457.4" r="3.4" fill="#8c1616"/>
<circle cx="912.7" cy="461.1" r="3.4" fill="#8c1616"/>
<circle cx="920.2" cy="462.3" r="3.4" fill="#8c1616"/>
<circle cx="910.2" cy="467.3" r="3.4" fill="#8c1616"/>
<text transform="translate(712.8 439.5) rotate(-90)" font-size="15" font-weight="normal" text-anchor="middle" fill="#111111" textLength="140" lengthAdjust="spacingAndGlyphs">Tone freezing time (s)</text>
<text x="845.8" y="344.2" font-size="16.5" font-weight="bold" text-anchor="middle" fill="#111111">(FCT)</text>
<text x="92.3" y="354.5" font-size="16.8" font-weight="normal" text-anchor="middle" fill="#111111">Vehicle</text>
<text x="215.6" y="354.5" font-size="16.8" font-weight="normal" text-anchor="middle" fill="#111111">CR2-crry</text>
<text x="350.8" y="354.5" font-size="16.8" font-weight="normal" text-anchor="middle" fill="#111111">C3<tspan font-size="9.5" dy="-6.8">-/-</tspan></text>
<text transform="translate(23 410.2) rotate(-90)" font-size="16" font-weight="normal" text-anchor="middle" fill="#111111" textLength="53.4" lengthAdjust="spacingAndGlyphs">Control</text>
<text transform="translate(23 510.4) rotate(-90)" font-size="16" font-weight="normal" text-anchor="middle" fill="#111111" textLength="56.8" lengthAdjust="spacingAndGlyphs">Surgery</text>
<clipPath id="pc0"><rect x="27.2" y="359.6" width="123.6" height="93.3"/></clipPath>
<clipPath id="ic0"><rect x="67.3" y="382.4" width="52.6" height="65.4"/></clipPath>
<linearGradient id="rgL0" gradientUnits="userSpaceOnUse" x1="27.2" x2="67.3" y1="0" y2="0"><stop offset="0" stop-color="rgb(152,137,150)"/><stop offset="1" stop-color="rgb(84,74,84)"/></linearGradient>
<linearGradient id="rgR0" gradientUnits="userSpaceOnUse" x1="150.8" x2="119.9" y1="0" y2="0"><stop offset="0" stop-color="rgb(128,115,127)"/><stop offset="1" stop-color="rgb(58,52,58)"/></linearGradient>
<linearGradient id="tsh0" gradientUnits="userSpaceOnUse" x1="0" x2="0" y1="359.6" y2="381.6"><stop offset="0" stop-color="#141111" stop-opacity="0.62"/><stop offset="1" stop-color="#141111" stop-opacity="0"/></linearGradient>
<rect x="27.2" y="359.6" width="123.6" height="99.1" fill="#171313"/>
<g clip-path="url(#pc0)">
<path d="M27.2 311.2L27.2 321.8L99 420ZM27.2 332.3L27.2 342.9L99 420ZM27.2 353.4L27.2 364L99 420ZM27.2 374.5L27.2 385.1L99 420ZM27.2 395.6L27.2 406.2L99 420ZM27.2 416.7L27.2 427.3L99 420ZM27.2 437.8L27.2 448.4L99 420ZM27.2 458.9L27.2 469.5L99 420ZM27.2 480L27.2 490.6L99 420Z" fill="url(#rgL0)"/>
<path d="M150.8 317L150.8 326.4L68 416.7ZM150.8 335.9L150.8 345.3L68 416.7ZM150.8 354.8L150.8 364.2L68 416.7ZM150.8 373.7L150.8 383.1L68 416.7ZM150.8 392.6L150.8 402L68 416.7ZM150.8 411.5L150.8 420.9L68 416.7ZM150.8 430.4L150.8 439.8L68 416.7ZM150.8 449.3L150.8 458.7L68 416.7ZM150.8 468.2L150.8 477.6L68 416.7Z" fill="url(#rgR0)"/>
<rect x="27.2" y="359.6" width="123.6" height="22" fill="url(#tsh0)"/>
<rect x="66.3" y="381.4" width="54.6" height="67.4" fill="#1a1616"/>
</g>
<g clip-path="url(#ic0)"><g filter="url(#jet)">
<rect x="61.3" y="376.4" width="64.6" height="77.4" fill="#1a1a1a"/>
<rect x="68.88" y="384.03" width="49.44" height="62.13" rx="6.31" fill="#808080"/>
<rect x="68.88" y="403.98" width="49.44" height="19.62" rx="2.63" fill="#525252"/>
<ellipse cx="77.29" cy="409.21" rx="5.26" ry="3.92" transform="rotate(20 77.29 409.21)" fill="#242424"/>
<ellipse cx="85.18" cy="415.1" rx="3.68" ry="5.23" transform="rotate(30 85.18 415.1)" fill="#242424"/>
<ellipse cx="111.48" cy="409.87" rx="6.84" ry="5.89" transform="rotate(0 111.48 409.87)" fill="#242424"/>
<ellipse cx="104.12" cy="420" rx="3.16" ry="2.62" transform="rotate(0 104.12 420)" fill="#242424"/>
<ellipse cx="117.27" cy="415.1" rx="2.63" ry="9.16" transform="rotate(0 117.27 415.1)" fill="#242424"/>
<path d="M92.02 402.02L93.6 413.79L99.91 424.26" fill="none" stroke="#808080" stroke-width="6.31" stroke-linecap="round" stroke-linejoin="round"/>
<ellipse cx="88.87" cy="398.75" rx="3.68" ry="2.62" transform="rotate(0 88.87 398.75)" fill="#525252"/>
<ellipse cx="91.23" cy="432.76" rx="3.68" ry="1.96" transform="rotate(0 91.23 432.76)" fill="#525252"/>
<ellipse cx="107.28" cy="416.41" rx="1.84" ry="1.96" transform="rotate(0 107.28 416.41)" fill="#616161"/>
<ellipse cx="81.5" cy="389.4" rx="8.15" ry="5.04" transform="rotate(-5 81.5 389.4)" fill="#a8a8a8"/>
<ellipse cx="106.49" cy="391.29" rx="5.26" ry="7.19" transform="rotate(15 106.49 391.29)" fill="#a8a8a8"/>
<ellipse cx="78.61" cy="437.66" rx="7.36" ry="7.65" transform="rotate(35 78.61 437.66)" fill="#a8a8a8"/>
<ellipse cx="76.24" cy="434.72" rx="4.73" ry="6.02" transform="rotate(0 76.24 434.72)" fill="#a8a8a8"/>
<ellipse cx="108.85" cy="438.51" rx="7.89" ry="5.69" transform="rotate(5 108.85 438.51)" fill="#a8a8a8"/>
<ellipse cx="81.5" cy="389.4" rx="6.05" ry="2.94" transform="rotate(-5 81.5 389.4)" fill="#ffffff"/>
<ellipse cx="106.49" cy="391.29" rx="3.16" ry="5.1" transform="rotate(15 106.49 391.29)" fill="#ffffff"/>
<ellipse cx="78.61" cy="437.66" rx="5.26" ry="5.56" transform="rotate(35 78.61 437.66)" fill="#ffffff"/>
<ellipse cx="76.24" cy="434.72" rx="2.63" ry="3.92" transform="rotate(0 76.24 434.72)" fill="#ffffff"/>
<ellipse cx="108.85" cy="438.51" rx="5.79" ry="3.6" transform="rotate(5 108.85 438.51)" fill="#ffffff"/>
<ellipse cx="96.23" cy="441.91" rx="3.68" ry="1.96" transform="rotate(0 96.23 441.91)" fill="#adadad"/>
</g></g>
<rect x="67.3" y="382.4" width="52.6" height="65.4" fill="none" stroke="#6a2a30" stroke-width="0.6"/>
<rect x="27.2" y="452.9" width="123.6" height="5.8" fill="url(#cbar)"/>
<text x="28.7" y="457.5" font-size="4.5" font-weight="normal" text-anchor="start" fill="#e8e8ff" style="stroke:none">0</text>
<text x="149.3" y="457.5" font-size="4.5" font-weight="normal" text-anchor="end" fill="#fff0e0" style="stroke:none">2000cm²/s</text>
<clipPath id="pc1"><rect x="154.8" y="359.6" width="123.9" height="93.3"/></clipPath>
<clipPath id="ic1"><rect x="195" y="382.6" width="51.8" height="65.2"/></clipPath>
<linearGradient id="rgL1" gradientUnits="userSpaceOnUse" x1="154.8" x2="195" y1="0" y2="0"><stop offset="0" stop-color="rgb(152,137,150)"/><stop offset="1" stop-color="rgb(84,74,84)"/></linearGradient>
<linearGradient id="rgR1" gradientUnits="userSpaceOnUse" x1="278.7" x2="246.8" y1="0" y2="0"><stop offset="0" stop-color="rgb(128,115,127)"/><stop offset="1" stop-color="rgb(58,52,58)"/></linearGradient>
<linearGradient id="tsh1" gradientUnits="userSpaceOnUse" x1="0" x2="0" y1="359.6" y2="381.6"><stop offset="0" stop-color="#141111" stop-opacity="0.62"/><stop offset="1" stop-color="#141111" stop-opacity="0"/></linearGradient>
<rect x="154.8" y="359.6" width="123.9" height="99.1" fill="#171313"/>
<g clip-path="url(#pc1)">
<path d="M154.8 311.2L154.8 321.8L226.3 420.1ZM154.8 332.3L154.8 342.9L226.3 420.1ZM154.8 353.4L154.8 364L226.3 420.1ZM154.8 374.5L154.8 385.1L226.3 420.1ZM154.8 395.6L154.8 406.2L226.3 420.1ZM154.8 416.7L154.8 427.3L226.3 420.1ZM154.8 437.8L154.8 448.4L226.3 420.1ZM154.8 458.9L154.8 469.5L226.3 420.1ZM154.8 480L154.8 490.6L226.3 420.1Z" fill="url(#rgL1)"/>
<path d="M278.7 317L278.7 326.4L195.3 416.8ZM278.7 335.9L278.7 345.3L195.3 416.8ZM278.7 354.8L278.7 364.2L195.3 416.8ZM278.7 373.7L278.7 383.1L195.3 416.8ZM278.7 392.6L278.7 402L195.3 416.8ZM278.7 411.5L278.7 420.9L195.3 416.8ZM278.7 430.4L278.7 439.8L195.3 416.8ZM278.7 449.3L278.7 458.7L195.3 416.8ZM278.7 468.2L278.7 477.6L195.3 416.8Z" fill="url(#rgR1)"/>
<rect x="154.8" y="359.6" width="123.9" height="22" fill="url(#tsh1)"/>
<rect x="194" y="381.6" width="53.8" height="67.2" fill="#1a1616"/>
</g>
<g clip-path="url(#ic1)"><g filter="url(#jet)">
<rect x="189" y="376.6" width="63.8" height="77.2" fill="#1a1a1a"/>
<rect x="196.81" y="384.23" width="47.66" height="61.94" rx="6.22" fill="#808080"/>
<ellipse cx="196.04" cy="410.64" rx="6.22" ry="10.43" transform="rotate(0 196.04 410.64)" fill="#242424"/>
<ellipse cx="245.76" cy="412.59" rx="5.18" ry="18.26" transform="rotate(0 245.76 412.59)" fill="#242424"/>
<ellipse cx="197.59" cy="443.24" rx="4.14" ry="3.91" transform="rotate(0 197.59 443.24)" fill="#242424"/>
<path d="M219.86 398.9L229.71 409.01" fill="none" stroke="#525252" stroke-width="2.59" stroke-linecap="round" stroke-linejoin="round"/>
<path d="M201.73 388.79L239.03 388.79" fill="none" stroke="#a8a8a8" stroke-width="11.91" stroke-linecap="round" stroke-linejoin="round"/>
<path d="M214.68 416.5L206.4 426.94L205.88 437.37L218.31 439.32L239.55 438.02" fill="none" stroke="#a8a8a8" stroke-width="12.69" stroke-linecap="round" stroke-linejoin="round"/>
<ellipse cx="231.52" cy="421.07" rx="3.63" ry="4.37" transform="rotate(20 231.52 421.07)" fill="#a8a8a8"/>
<path d="M201.73 388.79L239.03 388.79" fill="none" stroke="#ffffff" stroke-width="7.77" stroke-linecap="round" stroke-linejoin="round"/>
<path d="M214.68 416.5L206.4 426.94L205.88 437.37L218.31 439.32L239.55 438.02" fill="none" stroke="#ffffff" stroke-width="8.55" stroke-linecap="round" stroke-linejoin="round"/>
<ellipse cx="204.84" cy="397.6" rx="2.07" ry="2.28" transform="rotate(0 204.84 397.6)" fill="#adadad"/>
<ellipse cx="218.31" cy="412.27" rx="3.63" ry="3.26" transform="rotate(0 218.31 412.27)" fill="#9e9e9e"/>
<path d="M231.26 421.72L227.12 428.89" fill="none" stroke="#b8b8b8" stroke-width="2.59" stroke-linecap="round" stroke-linejoin="round"/>
<ellipse cx="231.52" cy="421.07" rx="1.55" ry="2.28" transform="rotate(20 231.52 421.07)" fill="#e6e6e6"/>
</g></g>
<rect x="195" y="382.6" width="51.8" height="65.2" fill="none" stroke="#6a2a30" stroke-width="0.6"/>
<rect x="154.8" y="452.9" width="123.9" height="5.8" fill="url(#cbar)"/>
<text x="156.3" y="457.5" font-size="4.5" font-weight="normal" text-anchor="start" fill="#e8e8ff" style="stroke:none">0</text>
<text x="277.2" y="457.5" font-size="4.5" font-weight="normal" text-anchor="end" fill="#fff0e0" style="stroke:none">2000cm²/s</text>
<clipPath id="pc2"><rect x="282.4" y="359.6" width="124.6" height="93.3"/></clipPath>
<clipPath id="ic2"><rect x="324.3" y="377.8" width="52.6" height="65.7"/></clipPath>
<linearGradient id="rgL2" gradientUnits="userSpaceOnUse" x1="282.4" x2="324.3" y1="0" y2="0"><stop offset="0" stop-color="rgb(228,222,228)"/><stop offset="1" stop-color="rgb(112,106,112)"/></linearGradient>
<linearGradient id="rgR2" gradientUnits="userSpaceOnUse" x1="407" x2="376.9" y1="0" y2="0"><stop offset="0" stop-color="rgb(152,146,152)"/><stop offset="1" stop-color="rgb(64,60,64)"/></linearGradient>
<linearGradient id="tsh2" gradientUnits="userSpaceOnUse" x1="0" x2="0" y1="359.6" y2="381.6"><stop offset="0" stop-color="#141111" stop-opacity="0.62"/><stop offset="1" stop-color="#141111" stop-opacity="0"/></linearGradient>
<rect x="282.4" y="359.6" width="124.6" height="99.1" fill="#171313"/>
<g clip-path="url(#pc2)">
<path d="M282.4 301.7L282.4 312.7L355.1 415.15ZM282.4 324.2L282.4 335.2L355.1 415.15ZM282.4 346.7L282.4 357.7L355.1 415.15ZM282.4 369.2L282.4 380.2L355.1 415.15ZM282.4 391.7L282.4 402.7L355.1 415.15ZM282.4 414.2L282.4 425.2L355.1 415.15ZM282.4 436.7L282.4 447.7L355.1 415.15ZM282.4 459.2L282.4 470.2L355.1 415.15ZM282.4 481.7L282.4 492.7L355.1 415.15Z" fill="url(#rgL2)"/>
<path d="M407 342.2L407 350.2L348.1 410.65ZM407 358.2L407 366.2L348.1 410.65ZM407 374.2L407 382.2L348.1 410.65ZM407 390.2L407 398.2L348.1 410.65ZM407 406.2L407 414.2L348.1 410.65ZM407 422.2L407 430.2L348.1 410.65ZM407 438.2L407 446.2L348.1 410.65ZM407 454.2L407 462.2L348.1 410.65ZM407 470.2L407 478.2L348.1 410.65Z" fill="url(#rgR2)"/>
<rect x="282.4" y="359.6" width="124.6" height="22" fill="url(#tsh2)"/>
<rect x="323.3" y="376.8" width="54.6" height="67.7" fill="#1a1616"/>
</g>
<g clip-path="url(#ic2)"><g filter="url(#jet)">
<rect x="318.3" y="371.8" width="64.6" height="77.7" fill="#1a1a1a"/>
<rect x="325.88" y="379.44" width="49.44" height="62.41" rx="6.31" fill="#666666"/>
<rect x="329.03" y="381.09" width="43.13" height="59.13" rx="7.36" fill="#808080"/>
<ellipse cx="335.87" cy="393.57" rx="7.36" ry="3.28" transform="rotate(0 335.87 393.57)" fill="#525252"/>
<ellipse cx="360.59" cy="398.17" rx="2.63" ry="2.96" transform="rotate(0 360.59 398.17)" fill="#0d0d0d"/>
<ellipse cx="342.45" cy="410.65" rx="2.1" ry="2.3" transform="rotate(0 342.45 410.65)" fill="#404040"/>
<ellipse cx="354.02" cy="411.64" rx="2.63" ry="2.3" transform="rotate(0 354.02 411.64)" fill="#525252"/>
<ellipse cx="332.19" cy="414.26" rx="2.1" ry="3.94" transform="rotate(0 332.19 414.26)" fill="#404040"/>
<ellipse cx="345.08" cy="421.82" rx="4.21" ry="2.3" transform="rotate(0 345.08 421.82)" fill="#454545"/>
<ellipse cx="361.12" cy="414.92" rx="3.16" ry="2.63" transform="rotate(0 361.12 414.92)" fill="#525252"/>
<ellipse cx="353.23" cy="392.25" rx="5.26" ry="1.97" transform="rotate(0 353.23 392.25)" fill="#666666"/>
<ellipse cx="332.98" cy="383.71" rx="3.68" ry="1.97" transform="rotate(0 332.98 383.71)" fill="#d9d9d9"/>
<ellipse cx="350.6" cy="384.7" rx="5.26" ry="4.73" transform="rotate(0 350.6 384.7)" fill="#a8a8a8"/>
<ellipse cx="364.8" cy="384.37" rx="6.84" ry="5.39" transform="rotate(0 364.8 384.37)" fill="#a8a8a8"/>
<ellipse cx="339.03" cy="403.23" rx="4.21" ry="4.4" transform="rotate(0 339.03 403.23)" fill="#a8a8a8"/>
<ellipse cx="332.72" cy="432.66" rx="4.47" ry="8.02" transform="rotate(0 332.72 432.66)" fill="#a8a8a8"/>
<ellipse cx="367.96" cy="435.29" rx="5.79" ry="5.39" transform="rotate(-35 367.96 435.29)" fill="#a8a8a8"/>
<ellipse cx="350.6" cy="384.7" rx="3.16" ry="2.63" transform="rotate(0 350.6 384.7)" fill="#f2f2f2"/>
<ellipse cx="364.8" cy="384.37" rx="4.73" ry="3.28" transform="rotate(0 364.8 384.37)" fill="#ffffff"/>
<ellipse cx="339.03" cy="403.23" rx="2.1" ry="2.3" transform="rotate(0 339.03 403.23)" fill="#ffffff"/>
<ellipse cx="349.28" cy="400.14" rx="2.1" ry="1.97" transform="rotate(0 349.28 400.14)" fill="#adadad"/>
<ellipse cx="369.9" cy="404.08" rx="1.58" ry="3.28" transform="rotate(0 369.9 404.08)" fill="#a3a3a3"/>
<ellipse cx="332.72" cy="432.66" rx="2.37" ry="5.91" transform="rotate(0 332.72 432.66)" fill="#ffffff"/>
<ellipse cx="367.96" cy="435.29" rx="3.68" ry="3.28" transform="rotate(-35 367.96 435.29)" fill="#ffffff"/>
<ellipse cx="370.06" cy="426.42" rx="1.58" ry="4.6" transform="rotate(0 370.06 426.42)" fill="#adadad"/>
<ellipse cx="351.65" cy="429.05" rx="1.84" ry="2.63" transform="rotate(0 351.65 429.05)" fill="#adadad"/>
<ellipse cx="352.7" cy="437.59" rx="2.1" ry="1.97" transform="rotate(0 352.7 437.59)" fill="#adadad"/>
</g></g>
<rect x="324.3" y="377.8" width="52.6" height="65.7" fill="none" stroke="#6a2a30" stroke-width="0.6"/>
<rect x="282.4" y="452.9" width="124.6" height="5.8" fill="url(#cbar)"/>
<text x="283.9" y="457.5" font-size="4.5" font-weight="normal" text-anchor="start" fill="#e8e8ff" style="stroke:none">0</text>
<text x="405.5" y="457.5" font-size="4.5" font-weight="normal" text-anchor="end" fill="#fff0e0" style="stroke:none">2000cm²/s</text>
<clipPath id="pc3"><rect x="27.2" y="463.8" width="123.6" height="93.6"/></clipPath>
<clipPath id="ic3"><rect x="67.1" y="487" width="52.1" height="65.6"/></clipPath>
<linearGradient id="rgL3" gradientUnits="userSpaceOnUse" x1="27.2" x2="67.1" y1="0" y2="0"><stop offset="0" stop-color="rgb(152,137,150)"/><stop offset="1" stop-color="rgb(84,74,84)"/></linearGradient>
<linearGradient id="rgR3" gradientUnits="userSpaceOnUse" x1="150.8" x2="119.2" y1="0" y2="0"><stop offset="0" stop-color="rgb(128,115,127)"/><stop offset="1" stop-color="rgb(58,52,58)"/></linearGradient>
<linearGradient id="tsh3" gradientUnits="userSpaceOnUse" x1="0" x2="0" y1="463.8" y2="485.8"><stop offset="0" stop-color="#141111" stop-opacity="0.62"/><stop offset="1" stop-color="#141111" stop-opacity="0"/></linearGradient>
<rect x="27.2" y="463.8" width="123.6" height="99.2" fill="#171313"/>
<g clip-path="url(#pc3)">
<path d="M27.2 415.4L27.2 426L98.55 524.7ZM27.2 436.5L27.2 447.1L98.55 524.7ZM27.2 457.6L27.2 468.2L98.55 524.7ZM27.2 478.7L27.2 489.3L98.55 524.7ZM27.2 499.8L27.2 510.4L98.55 524.7ZM27.2 520.9L27.2 531.5L98.55 524.7ZM27.2 542L27.2 552.6L98.55 524.7ZM27.2 563.1L27.2 573.7L98.55 524.7ZM27.2 584.2L27.2 594.8L98.55 524.7Z" fill="url(#rgL3)"/>
<path d="M150.8 421.2L150.8 430.6L67.55 521.4ZM150.8 440.1L150.8 449.5L67.55 521.4ZM150.8 459L150.8 468.4L67.55 521.4ZM150.8 477.9L150.8 487.3L67.55 521.4ZM150.8 496.8L150.8 506.2L67.55 521.4ZM150.8 515.7L150.8 525.1L67.55 521.4ZM150.8 534.6L150.8 544L67.55 521.4ZM150.8 553.5L150.8 562.9L67.55 521.4ZM150.8 572.4L150.8 581.8L67.55 521.4Z" fill="url(#rgR3)"/>
<rect x="27.2" y="463.8" width="123.6" height="22" fill="url(#tsh3)"/>
<rect x="66.1" y="486" width="54.1" height="67.6" fill="#1a1616"/>
</g>
<g clip-path="url(#ic3)"><g filter="url(#jet)">
<rect x="61.1" y="481" width="64.1" height="77.6" fill="#1a1a1a"/>
<rect x="68.66" y="488.64" width="48.97" height="62.32" rx="6.25" fill="#808080"/>
<rect x="70.49" y="488.12" width="45.33" height="20.73" rx="5.21" fill="#a8a8a8"/>
<rect x="72.31" y="491.72" width="16.67" height="56.15" rx="5.21" fill="#a8a8a8"/>
<rect x="69.97" y="532.4" width="47.41" height="19.09" rx="5.21" fill="#a8a8a8"/>
<path d="M108.78 500.12L105.65 510.62L88.98 517.83" fill="none" stroke="#a8a8a8" stroke-width="13.03" stroke-linecap="round" stroke-linejoin="round"/>
<path d="M110.86 530.3L110.86 539.48" fill="none" stroke="#a8a8a8" stroke-width="11.46" stroke-linecap="round" stroke-linejoin="round"/>
<rect x="72.31" y="489.95" width="41.68" height="17.06" rx="5.21" fill="#ffffff"/>
<rect x="74.13" y="493.56" width="13.03" height="52.48" rx="5.21" fill="#ffffff"/>
<rect x="71.79" y="534.23" width="43.76" height="15.42" rx="5.21" fill="#ffffff"/>
<path d="M108.78 500.12L105.65 510.62L88.98 517.83" fill="none" stroke="#ffffff" stroke-width="8.86" stroke-linecap="round" stroke-linejoin="round"/>
<path d="M110.86 530.3L110.86 539.48" fill="none" stroke="#ffffff" stroke-width="7.29" stroke-linecap="round" stroke-linejoin="round"/>
<ellipse cx="94.45" cy="505.04" rx="5.21" ry="3.61" transform="rotate(-35 94.45 505.04)" fill="#858585"/>
<ellipse cx="106.44" cy="521.44" rx="1.82" ry="1.97" transform="rotate(0 106.44 521.44)" fill="#adadad"/>
</g></g>
<rect x="67.1" y="487" width="52.1" height="65.6" fill="none" stroke="#6a2a30" stroke-width="0.6"/>
<rect x="27.2" y="557.4" width="123.6" height="5.6" fill="url(#cbar)"/>
<text x="28.7" y="561.8" font-size="4.5" font-weight="normal" text-anchor="start" fill="#e8e8ff" style="stroke:none">0</text>
<text x="149.3" y="561.8" font-size="4.5" font-weight="normal" text-anchor="end" fill="#fff0e0" style="stroke:none">2000cm²/s</text>
<clipPath id="pc4"><rect x="154.8" y="463.8" width="123.9" height="93.6"/></clipPath>
<clipPath id="ic4"><rect x="195" y="487" width="52.2" height="65.6"/></clipPath>
<linearGradient id="rgL4" gradientUnits="userSpaceOnUse" x1="154.8" x2="195" y1="0" y2="0"><stop offset="0" stop-color="rgb(152,137,150)"/><stop offset="1" stop-color="rgb(84,74,84)"/></linearGradient>
<linearGradient id="rgR4" gradientUnits="userSpaceOnUse" x1="278.7" x2="247.2" y1="0" y2="0"><stop offset="0" stop-color="rgb(128,115,127)"/><stop offset="1" stop-color="rgb(58,52,58)"/></linearGradient>
<linearGradient id="tsh4" gradientUnits="userSpaceOnUse" x1="0" x2="0" y1="463.8" y2="485.8"><stop offset="0" stop-color="#141111" stop-opacity="0.62"/><stop offset="1" stop-color="#141111" stop-opacity="0"/></linearGradient>
<rect x="154.8" y="463.8" width="123.9" height="99.2" fill="#171313"/>
<g clip-path="url(#pc4)">
<path d="M154.8 415.4L154.8 426L226.5 524.7ZM154.8 436.5L154.8 447.1L226.5 524.7ZM154.8 457.6L154.8 468.2L226.5 524.7ZM154.8 478.7L154.8 489.3L226.5 524.7ZM154.8 499.8L154.8 510.4L226.5 524.7ZM154.8 520.9L154.8 531.5L226.5 524.7ZM154.8 542L154.8 552.6L226.5 524.7ZM154.8 563.1L154.8 573.7L226.5 524.7ZM154.8 584.2L154.8 594.8L226.5 524.7Z" fill="url(#rgL4)"/>
<path d="M278.7 421.2L278.7 430.6L195.5 521.4ZM278.7 440.1L278.7 449.5L195.5 521.4ZM278.7 459L278.7 468.4L195.5 521.4ZM278.7 477.9L278.7 487.3L195.5 521.4ZM278.7 496.8L278.7 506.2L195.5 521.4ZM278.7 515.7L278.7 525.1L195.5 521.4ZM278.7 534.6L278.7 544L195.5 521.4ZM278.7 553.5L278.7 562.9L195.5 521.4ZM278.7 572.4L278.7 581.8L195.5 521.4Z" fill="url(#rgR4)"/>
<rect x="154.8" y="463.8" width="123.9" height="22" fill="url(#tsh4)"/>
<rect x="194" y="486" width="54.2" height="67.6" fill="#1a1616"/>
</g>
<g clip-path="url(#ic4)"><g filter="url(#jet)">
<rect x="189" y="481" width="64.2" height="77.6" fill="#1a1a1a"/>
<rect x="197.09" y="488.97" width="45.41" height="61.66" rx="6.26" fill="#808080"/>
<ellipse cx="207.27" cy="522.1" rx="1.83" ry="1.97" transform="rotate(0 207.27 522.1)" fill="#525252"/>
<ellipse cx="205.44" cy="496.51" rx="7.31" ry="8" transform="rotate(0 205.44 496.51)" fill="#a8a8a8"/>
<path d="M206.48 500.12L211.7 509.3" fill="none" stroke="#a8a8a8" stroke-width="12.53" stroke-linecap="round" stroke-linejoin="round"/>
<path d="M212.75 507.99L219.01 501.1L237.28 494.54" fill="none" stroke="#a8a8a8" stroke-width="11.74" stroke-linecap="round" stroke-linejoin="round"/>
<ellipse cx="216.4" cy="529.64" rx="6.26" ry="6.69" transform="rotate(0 216.4 529.64)" fill="#a8a8a8"/>
<path d="M215.88 531.61L206.48 541.78" fill="none" stroke="#a8a8a8" stroke-width="11.48" stroke-linecap="round" stroke-linejoin="round"/>
<ellipse cx="205.44" cy="541.78" rx="7.83" ry="6.69" transform="rotate(0 205.44 541.78)" fill="#a8a8a8"/>
<path d="M206.48 542.76L222.14 541.45L237.28 543.42" fill="none" stroke="#a8a8a8" stroke-width="10.96" stroke-linecap="round" stroke-linejoin="round"/>
<ellipse cx="234.67" cy="543.42" rx="7.31" ry="6.04" transform="rotate(0 234.67 543.42)" fill="#a8a8a8"/>
<ellipse cx="205.44" cy="496.51" rx="5.22" ry="5.9" transform="rotate(0 205.44 496.51)" fill="#ffffff"/>
<path d="M206.48 500.12L211.7 509.3" fill="none" stroke="#ffffff" stroke-width="8.35" stroke-linecap="round" stroke-linejoin="round"/>
<path d="M212.75 507.99L219.01 501.1L237.28 494.54" fill="none" stroke="#ffffff" stroke-width="7.57" stroke-linecap="round" stroke-linejoin="round"/>
<ellipse cx="230.23" cy="516.52" rx="2.09" ry="2.3" transform="rotate(0 230.23 516.52)" fill="#d9d9d9"/>
<ellipse cx="230.23" cy="530.95" rx="1.83" ry="1.97" transform="rotate(0 230.23 530.95)" fill="#d1d1d1"/>
<ellipse cx="216.4" cy="529.64" rx="4.18" ry="4.59" transform="rotate(0 216.4 529.64)" fill="#ffffff"/>
<path d="M215.88 531.61L206.48 541.78" fill="none" stroke="#ffffff" stroke-width="7.31" stroke-linecap="round" stroke-linejoin="round"/>
<ellipse cx="205.44" cy="541.78" rx="5.74" ry="4.59" transform="rotate(0 205.44 541.78)" fill="#ffffff"/>
<path d="M206.48 542.76L222.14 541.45L237.28 543.42" fill="none" stroke="#f2f2f2" stroke-width="6.79" stroke-linecap="round" stroke-linejoin="round"/>
<ellipse cx="234.67" cy="543.42" rx="5.22" ry="3.94" transform="rotate(0 234.67 543.42)" fill="#ffffff"/>
</g></g>
<rect x="195" y="487" width="52.2" height="65.6" fill="none" stroke="#6a2a30" stroke-width="0.6"/>
<rect x="154.8" y="557.4" width="123.9" height="5.6" fill="url(#cbar)"/>
<text x="156.3" y="561.8" font-size="4.5" font-weight="normal" text-anchor="start" fill="#e8e8ff" style="stroke:none">0</text>
<text x="277.2" y="561.8" font-size="4.5" font-weight="normal" text-anchor="end" fill="#fff0e0" style="stroke:none">2000cm²/s</text>
<clipPath id="pc5"><rect x="282.4" y="463.8" width="124.6" height="93.6"/></clipPath>
<clipPath id="ic5"><rect x="324.3" y="482.4" width="53.1" height="65.3"/></clipPath>
<linearGradient id="rgL5" gradientUnits="userSpaceOnUse" x1="282.4" x2="324.3" y1="0" y2="0"><stop offset="0" stop-color="rgb(228,222,228)"/><stop offset="1" stop-color="rgb(112,106,112)"/></linearGradient>
<linearGradient id="rgR5" gradientUnits="userSpaceOnUse" x1="407" x2="377.4" y1="0" y2="0"><stop offset="0" stop-color="rgb(152,146,152)"/><stop offset="1" stop-color="rgb(64,60,64)"/></linearGradient>
<linearGradient id="tsh5" gradientUnits="userSpaceOnUse" x1="0" x2="0" y1="463.8" y2="485.8"><stop offset="0" stop-color="#141111" stop-opacity="0.62"/><stop offset="1" stop-color="#141111" stop-opacity="0"/></linearGradient>
<rect x="282.4" y="463.8" width="124.6" height="99.2" fill="#171313"/>
<g clip-path="url(#pc5)">
<path d="M282.4 405.9L282.4 416.9L355.35 519.55ZM282.4 428.4L282.4 439.4L355.35 519.55ZM282.4 450.9L282.4 461.9L355.35 519.55ZM282.4 473.4L282.4 484.4L355.35 519.55ZM282.4 495.9L282.4 506.9L355.35 519.55ZM282.4 518.4L282.4 529.4L355.35 519.55ZM282.4 540.9L282.4 551.9L355.35 519.55ZM282.4 563.4L282.4 574.4L355.35 519.55ZM282.4 585.9L282.4 596.9L355.35 519.55Z" fill="url(#rgL5)"/>
<path d="M407 446.4L407 454.4L348.35 515.05ZM407 462.4L407 470.4L348.35 515.05ZM407 478.4L407 486.4L348.35 515.05ZM407 494.4L407 502.4L348.35 515.05ZM407 510.4L407 518.4L348.35 515.05ZM407 526.4L407 534.4L348.35 515.05ZM407 542.4L407 550.4L348.35 515.05ZM407 558.4L407 566.4L348.35 515.05ZM407 574.4L407 582.4L348.35 515.05Z" fill="url(#rgR5)"/>
<rect x="282.4" y="463.8" width="124.6" height="22" fill="url(#tsh5)"/>
<rect x="323.3" y="481.4" width="55.1" height="67.3" fill="#1a1616"/>
</g>
<g clip-path="url(#ic5)"><g filter="url(#jet)">
<rect x="318.3" y="476.4" width="65.1" height="77.3" fill="#1a1a1a"/>
<rect x="325.89" y="484.03" width="49.91" height="62.04" rx="6.37" fill="#808080"/>
<ellipse cx="360.94" cy="502.64" rx="3.45" ry="3.27" transform="rotate(-20 360.94 502.64)" fill="#080808"/>
<ellipse cx="345.54" cy="509.83" rx="1.59" ry="2.61" transform="rotate(20 345.54 509.83)" fill="#1f1f1f"/>
<ellipse cx="350.85" cy="498.73" rx="5.31" ry="3.27" transform="rotate(0 350.85 498.73)" fill="#525252"/>
<ellipse cx="339.17" cy="513.74" rx="2.65" ry="5.22" transform="rotate(0 339.17 513.74)" fill="#5c5c5c"/>
<ellipse cx="335.45" cy="527.46" rx="2.65" ry="2.61" transform="rotate(-30 335.45 527.46)" fill="#404040"/>
<ellipse cx="360.94" cy="526.15" rx="3.19" ry="3.27" transform="rotate(0 360.94 526.15)" fill="#5c5c5c"/>
<ellipse cx="332.26" cy="490.69" rx="6.37" ry="6.01" transform="rotate(-30 332.26 490.69)" fill="#a8a8a8"/>
<ellipse cx="368.37" cy="490.04" rx="6.11" ry="6.33" transform="rotate(40 368.37 490.04)" fill="#a8a8a8"/>
<path d="M371.56 528.11L369.97 537.25L359.35 540.52L348.19 539.67" fill="none" stroke="#a8a8a8" stroke-width="10.62" stroke-linecap="round" stroke-linejoin="round"/>
<ellipse cx="331.73" cy="540.32" rx="5.84" ry="5.68" transform="rotate(0 331.73 540.32)" fill="#a8a8a8"/>
<ellipse cx="332.26" cy="490.69" rx="4.25" ry="3.92" transform="rotate(-30 332.26 490.69)" fill="#ffffff"/>
<path d="M335.98 488.93L344.48 487.49" fill="none" stroke="#d1d1d1" stroke-width="3.19" stroke-linecap="round" stroke-linejoin="round"/>
<path d="M331.2 494.15L331.73 501.99" fill="none" stroke="#b2b2b2" stroke-width="2.65" stroke-linecap="round" stroke-linejoin="round"/>
<ellipse cx="368.37" cy="490.04" rx="3.98" ry="4.24" transform="rotate(40 368.37 490.04)" fill="#ffffff"/>
<path d="M370.76 504.6L369.75 515.05" fill="none" stroke="#e0e0e0" stroke-width="2.65" stroke-linecap="round" stroke-linejoin="round"/>
<path d="M371.56 528.11L369.97 537.25L359.35 540.52L348.19 539.67" fill="none" stroke="#ffffff" stroke-width="6.37" stroke-linecap="round" stroke-linejoin="round"/>
<ellipse cx="331.73" cy="540.32" rx="3.72" ry="3.59" transform="rotate(0 331.73 540.32)" fill="#ffffff"/>
<ellipse cx="351.38" cy="521.58" rx="1.59" ry="1.96" transform="rotate(0 351.38 521.58)" fill="#9e9e9e"/>
</g></g>
<rect x="324.3" y="482.4" width="53.1" height="65.3" fill="none" stroke="#6a2a30" stroke-width="0.6"/>
<rect x="282.4" y="557.4" width="124.6" height="5.6" fill="url(#cbar)"/>
<text x="283.9" y="561.8" font-size="4.5" font-weight="normal" text-anchor="start" fill="#e8e8ff" style="stroke:none">0</text>
<text x="405.5" y="561.8" font-size="4.5" font-weight="normal" text-anchor="end" fill="#fff0e0" style="stroke:none">2000cm²/s</text>
</svg></body></html>
